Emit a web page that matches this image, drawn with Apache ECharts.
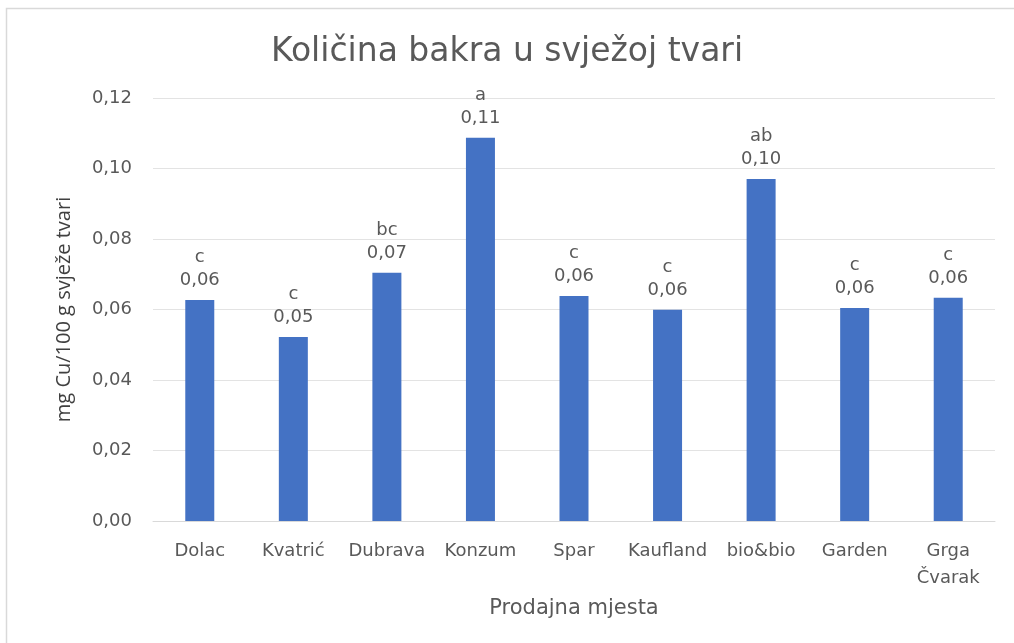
<!DOCTYPE html>
<html>
<head>
<meta charset="utf-8">
<script src="https://cdn.jsdelivr.net/npm/echarts@6/dist/echarts.min.js"></script>
<style>
  html, body { margin: 0; padding: 0; background: #fff; }
  #chart { width: 1014px; height: 643px; }
</style>
</head>
<body>
<div id="chart"></div>
<script>
// Prodajna mjesta i izmjerene vrijednosti
const categories = ['Dolac', 'Kvatrić', 'Dubrava', 'Konzum', 'Spar', 'Kaufland', 'bio&bio', 'Garden', 'Grga\nČvarak'];
const values = [0.0627, 0.0522, 0.0704, 0.1087, 0.0638, 0.0599, 0.0970, 0.0604, 0.0633];
const letters = ['c', 'c', 'bc', 'a', 'c', 'c', 'ab', 'c', 'c'];
const yTicks = { min: 0, max: 0.12, interval: 0.02 };

const textColor = '#595959';
const fontWide = '"DejaVu Sans", "Open Sans", sans-serif';
const fontSide = '"Open Sans", "Noto Sans", sans-serif';

const chart = echarts.init(document.getElementById('chart'));

const fmt = v => v.toFixed(2).replace('.', ',');

const option = {
    backgroundColor: '#fff',
    animation: false,
    title: {
        text: 'Količina bakra u svježoj tvari',
        left: 'center',
        top: 31,
        textStyle: { color: textColor, fontSize: 33, fontWeight: 'normal', fontFamily: fontWide }
    },
    graphic: [{
        type: 'rect',
        shape: { x: 6.5, y: 8.5, width: 1010, height: 640 },
        style: { fill: 'none', stroke: '#d9d9d9', lineWidth: 1.5 },
        silent: true
    }],
    grid: { left: 153, right: 19, top: 98, bottom: 122 },
    xAxis: {
        type: 'category',
        data: categories,
        name: 'Prodajna mjesta',
        nameLocation: 'middle',
        nameGap: 77,
        nameTextStyle: { color: textColor, fontSize: 21, fontFamily: fontWide },
        axisLine: { lineStyle: { color: '#d9d9d9', width: 1 } },
        axisTick: { show: false },
        axisLabel: {
            color: textColor, fontSize: 18, fontFamily: fontWide, margin: 17,
            interval: 0, lineHeight: 27
        }
    },
    yAxis: {
        type: 'value',
        min: yTicks.min,
        max: yTicks.max,
        interval: yTicks.interval,
        name: 'mg Cu/100 g svježe tvari',
        nameLocation: 'middle',
        nameGap: 79,
        nameTextStyle: { color: '#404040', fontSize: 20, fontFamily: fontSide },
        axisLine: { show: false },
        axisTick: { show: false },
        splitLine: { lineStyle: { color: '#e3e3e3', width: 1 } },
        axisLabel: {
            color: textColor, fontSize: 18, fontFamily: fontWide, margin: 21,
            formatter: fmt
        }
    },
    series: [{
        type: 'bar',
        data: values,
        barWidth: '31%',
        itemStyle: { color: '#4472c4' },
        label: {
            show: true,
            position: 'top',
            distance: 8,
            color: textColor,
            fontSize: 18,
            fontFamily: fontWide,
            lineHeight: 23,
            formatter: p => letters[p.dataIndex] + '\n' + fmt(p.value)
        }
    }]
};

chart.setOption(option);
</script>
</body>
</html>
